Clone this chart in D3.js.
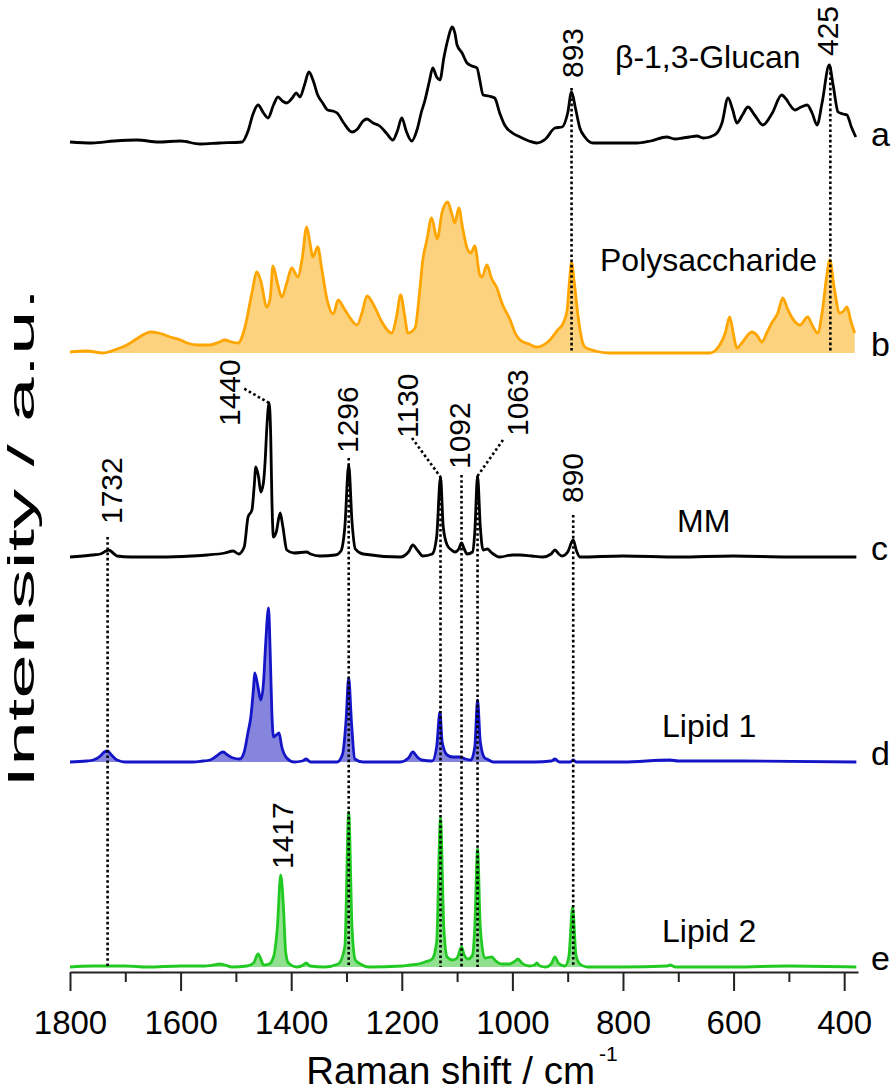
<!DOCTYPE html>
<html>
<head>
<meta charset="utf-8">
<script src="https://cdn.jsdelivr.net/npm/d3@7"></script>
<style>
  body { margin: 0; background: #fff; }
  text { font-family: "Liberation Sans", Arial, sans-serif; fill: #000; }
</style>
</head>
<body>
<div id="chart"></div>
<script>
// spectra: [Raman shift, intensity a.u.]
const glucan = [[1800,1],[1760,0],[1720,2],[1679,3],[1640,1],[1600,2],[1565,-1],[1530,0],[1489,1],[1478,12],[1469,29],[1460,38],[1450,30],[1442,25],[1432,38],[1424,46],[1416,42],[1408,40],[1398,45],[1391,50],[1384,46],[1376,58],[1368,71],[1360,62],[1352,48],[1343,40],[1334,33],[1325,32],[1317,30],[1305,20],[1290,11],[1280,14],[1270,22],[1263,24],[1252,20],[1240,17],[1228,10],[1216,3],[1208,12],[1200,25],[1192,12],[1182,2],[1172,14],[1165,30],[1158,43],[1150,62],[1144,75],[1137,66],[1131,63],[1124,85],[1116,105],[1109,116],[1104,110],[1100,98],[1091,90],[1082,80],[1073,77],[1064,75],[1059,63],[1053,48],[1043,47],[1032,45],[1023,30],[1014,18],[1000,10],[986,6],[970,2],[956,0],[940,4],[923,15],[910,16],[900,30],[893,51],[886,35],[878,15],[869,6],[854,0],[820,0],[775,0],[750,2],[721,6],[706,4],[692,5],[680,6],[666,7],[655,5],[643,6],[630,10],[621,20],[610,45],[602,34],[594,20],[584,28],[574,36],[562,28],[547,18],[530,30],[513,48],[505,44],[498,38],[489,33],[478,36],[467,38],[458,30],[449,18],[440,40],[427,78],[420,58],[411,31],[402,29],[395,28],[387,16],[379,6]];
const polysac = [[1800,1],[1770,2],[1740,0],[1720,3],[1697,8],[1680,14],[1665,19],[1655,21],[1640,20],[1619,16],[1600,13],[1588,10],[1570,8],[1547,8],[1530,11],[1520,13],[1508,11],[1496,10],[1484,25],[1471,60],[1462,81],[1455,72],[1444,46],[1438,55],[1433,87],[1425,70],[1417,56],[1408,70],[1399,85],[1388,76],[1380,95],[1372,126],[1366,110],[1361,96],[1352,106],[1345,85],[1335,53],[1324,39],[1315,53],[1305,45],[1297,38],[1281,28],[1272,40],[1263,57],[1249,46],[1236,31],[1218,20],[1210,35],[1202,58],[1195,38],[1189,20],[1176,25],[1168,60],[1162,93],[1155,112],[1146,135],[1136,114],[1127,141],[1117,151],[1110,140],[1104,130],[1097,145],[1090,125],[1082,105],[1075,100],[1068,107],[1059,78],[1055,76],[1046,88],[1038,75],[1028,65],[1019,50],[1004,33],[995,20],[986,13],[970,9],[956,6],[936,11],[918,23],[908,30],[901,43],[897,70],[893,90],[888,70],[881,36],[875,15],[869,6],[850,2],[824,0],[780,0],[700,0],[643,0],[625,8],[615,20],[607,36],[600,18],[594,5],[585,10],[567,21],[558,18],[549,11],[540,20],[531,30],[520,40],[511,55],[503,45],[495,36],[480,28],[466,36],[458,28],[448,20],[440,40],[432,75],[426,93],[418,65],[408,40],[401,42],[395,46],[388,32],[381,20]];
const mm = [[1800,0],[1760,2],[1745,3],[1735,6],[1730,7],[1720,3],[1715,1],[1690,0],[1637,0],[1580,1],[1552,2],[1520,4],[1505,6],[1495,3],[1485,10],[1478,40],[1471,47],[1467,70],[1464,90],[1459,80],[1455,65],[1450,75],[1447,97],[1444,130],[1440,154],[1437,120],[1435,60],[1432,20],[1427,25],[1420,44],[1415,30],[1408,7],[1395,4],[1372,5],[1365,3],[1348,1],[1320,2],[1310,6],[1303,30],[1296,92],[1290,35],[1284,8],[1270,3],[1203,0],[1188,5],[1180,12],[1172,7],[1162,1],[1145,3],[1137,20],[1130,80],[1125,30],[1118,12],[1110,7],[1104,5],[1097,8],[1092,14],[1087,8],[1082,3],[1072,5],[1068,25],[1063,81],[1058,30],[1053,7],[1045,8],[1039,5],[1023,0],[1000,2],[986,2],[965,1],[945,0],[930,3],[923,7],[916,3],[910,1],[900,5],[890,17],[884,6],[878,0],[800,1],[700,0],[600,1],[500,0],[378,0]];
const lipid1 = [[1800,0],[1770,1],[1758,2],[1745,6],[1738,10],[1732,11],[1725,7],[1715,2],[1700,0],[1578,0],[1560,1],[1547,2],[1535,6],[1528,9],[1523,10],[1515,7],[1505,4],[1493,3],[1485,10],[1478,30],[1473,45],[1468,75],[1466,89],[1460,75],[1455,62],[1450,80],[1446,120],[1441,154],[1438,110],[1435,50],[1432,25],[1427,27],[1422,29],[1417,15],[1408,4],[1395,0],[1380,1],[1373,3],[1365,0],[1317,0],[1307,8],[1301,40],[1296,84],[1291,40],[1285,3],[1270,0],[1203,0],[1188,4],[1180,10],[1172,5],[1164,2],[1145,1],[1137,15],[1131,50],[1127,20],[1118,7],[1108,5],[1095,5],[1085,3],[1075,2],[1068,15],[1063,62],[1058,20],[1050,4],[1046,3],[1035,0],[960,0],[930,1],[923,3],[915,0],[895,0],[890,2],[885,0],[800,0],[715,2],[700,1],[660,1],[640,1],[600,1],[378,0]];
const lipid2 = [[1800,0],[1760,1],[1740,1],[1700,1],[1660,0],[1600,1],[1560,1],[1541,2],[1530,3],[1520,2],[1507,0],[1480,1],[1468,4],[1460,13],[1455,8],[1450,2],[1440,3],[1432,10],[1425,40],[1419,92],[1414,60],[1410,15],[1405,4],[1390,0],[1378,2],[1373,4],[1366,1],[1340,0],[1315,3],[1303,20],[1296,155],[1290,40],[1284,7],[1275,3],[1260,0],[1200,1],[1185,2],[1170,3],[1158,5],[1145,8],[1137,25],[1130,149],[1124,40],[1118,10],[1108,7],[1100,9],[1092,20],[1087,12],[1080,8],[1072,12],[1068,40],[1063,118],[1058,40],[1050,9],[1037,10],[1030,6],[1020,3],[1005,3],[995,6],[990,8],[983,4],[970,1],[960,2],[956,4],[950,1],[940,0],[930,3],[923,10],[917,4],[905,1],[898,10],[891,60],[885,12],[878,3],[865,0],[800,0],[720,1],[715,2],[705,0],[600,0],[500,1],[378,0]];

const traceNames = ["β-1,3-Glucan", "Polysaccharide", "MM", "Lipid 1", "Lipid 2"];
const traceLetters = ["a", "b", "c", "d", "e"];
const traceOffsets = [829, 619, 415, 210, 5];

const majorTicks = [1800, 1600, 1400, 1200, 1000, 800, 600, 400];
const minorTicks = [1700, 1500, 1300, 1100, 900, 700, 500];

// marked bands
const glucanBands = [893, 425];
const lipidBands = [1732, 1440, 1296, 1130, 1092, 1063, 890];
const lipid2Bands = [1417];

const W = 894, H = 1091;
const svg = d3.select("#chart").append("svg").attr("width", W).attr("height", H);

const x = d3.scaleLinear().domain([1800, 375]).range([70, 858]);
const y = d3.scaleLinear().domain([0, 1000]).range([972, -28]);

const series = [
  {data: glucan, stroke: "#000", fill: null},
  {data: polysac, stroke: "#ffa500", fill: "#fdd27e"},
  {data: mm, stroke: "#000", fill: null},
  {data: lipid1, stroke: "#1515c8", fill: "#8585de"},
  {data: lipid2, stroke: "#22c922", fill: "#90e090"}
];

series.forEach((s, i) => {
  const off = traceOffsets[i];
  if (s.fill) {
    const area = d3.area()
      .x(d => x(d[0]))
      .y0(y(off))
      .y1(d => y(off + Math.max(d[1], 0)))
      .curve(d3.curveMonotoneX);
    svg.append("path").datum(s.data).attr("d", area).attr("fill", s.fill);
  }
  const line = d3.line()
    .x(d => x(d[0]))
    .y(d => y(off + d[1]))
    .curve(d3.curveMonotoneX);
  svg.append("path").datum(s.data).attr("d", line)
    .attr("fill", "none").attr("stroke", s.stroke)
    .attr("stroke-width", 2.8).attr("stroke-linejoin", "round");
});

// dotted marker lines
const dot = (x1, y1, x2, y2) => svg.append("line")
  .attr("x1", x1).attr("y1", y1).attr("x2", x2).attr("y2", y2)
  .attr("stroke", "#000").attr("stroke-width", 2.6).attr("stroke-dasharray", "2.6,2.6");

dot(x(glucanBands[0]), 88, x(glucanBands[0]), y(traceOffsets[1]));
dot(x(glucanBands[1]), 67, x(glucanBands[1]), y(traceOffsets[1]));

const bottom = y(traceOffsets[4]);
dot(x(1732), 537, x(1732), bottom);
dot(x(1440), 403, 243, 388);
dot(x(1296), 458, x(1296), bottom);
dot(412, 438, x(1130), 477);
dot(x(1130), 477, x(1130), bottom);
dot(x(1092), 475, x(1092), bottom);
dot(503, 440, x(1063), 476);
dot(x(1063), 476, x(1063), bottom);
dot(x(890), 515, x(890), bottom);

// rotated peak labels, [baseline x, start y]
const vlabel = (txt, bx, by) => svg.append("text")
  .attr("transform", "translate(" + bx + "," + by + ") rotate(-90)")
  .attr("font-size", 30).text(txt);

vlabel(glucanBands[0], 583, 78);
vlabel(glucanBands[1], 838, 56);
vlabel(lipidBands[0], 122, 524);
vlabel(lipidBands[1], 240, 426);
vlabel(lipidBands[2], 358, 453);
vlabel(lipidBands[3], 418, 438);
vlabel(lipidBands[4], 470, 469);
vlabel(lipidBands[5], 528, 436);
vlabel(lipidBands[6], 583, 503);
vlabel(lipid2Bands[0], 293, 869);

// trace names and letters
const namePos = [[615, 68], [600, 271], [677, 532], [662, 737], [662, 942]];
traceNames.forEach((n, i) => {
  svg.append("text").attr("x", namePos[i][0]).attr("y", namePos[i][1])
    .attr("font-size", 32).text(n);
  svg.append("text").attr("x", 871).attr("y", y(traceOffsets[i]) + 3)
    .attr("font-size", 34).text(traceLetters[i]);
});

// x axis
const axis = svg.append("g").attr("transform", "translate(0," + y(0) + ")")
  .call(d3.axisBottom(x).tickValues(majorTicks).tickSize(19).tickSizeOuter(0)
    .tickPadding(20).tickFormat(d3.format("d")));
svg.append("g").attr("transform", "translate(0," + y(0) + ")")
  .call(d3.axisBottom(x).tickValues(minorTicks).tickSize(10).tickSizeOuter(0).tickFormat(""))
  .select(".domain").remove();
svg.selectAll(".tick line, .domain").attr("stroke", "#222").attr("stroke-width", 2);
axis.selectAll("text").attr("font-size", 33).attr("font-family", "Liberation Sans, Arial, sans-serif").attr("fill", "#000");

const xt = svg.append("text").attr("x", 462).attr("y", 1084).attr("text-anchor", "middle")
  .attr("font-size", 38.5);
xt.append("tspan").text("Raman shift / cm");
xt.append("tspan").attr("font-size", 21).attr("dx", 4).attr("dy", -23).text("-1");

svg.append("text").attr("transform", "translate(34,538) rotate(-90)")
  .attr("text-anchor", "middle").attr("font-size", 37)
  .attr("textLength", 500).attr("lengthAdjust", "spacingAndGlyphs")
  .text("Intensity / a.u.");
</script>
</body>
</html>
